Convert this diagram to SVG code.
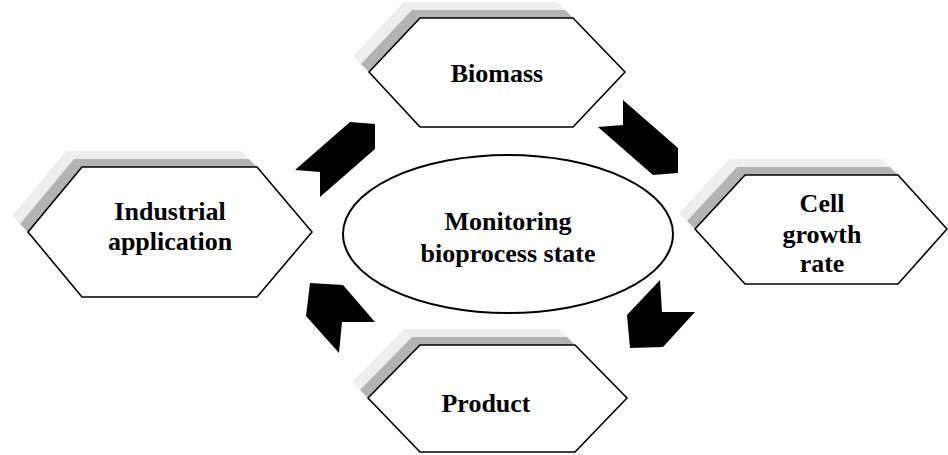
<svg xmlns="http://www.w3.org/2000/svg" width="948" height="455" viewBox="0 0 948 455">
<style>
.hex{fill:#ffffff;stroke:#000000;stroke-width:1.6;stroke-linejoin:miter}
.sh1{fill:#eeeeee}
.sh2{fill:#b3b3b3}
.lbl{font-family:"Liberation Serif","Times New Roman",serif;font-weight:bold;font-size:26px;fill:#000;text-anchor:middle}
.arr{fill:#000000}
</style>
<rect width="948" height="455" fill="#ffffff"/>
<g id="biomass">
<polygon class="sh1" points="353,56 404,2 557,2 573,18 420,18 369,72"/>
<polygon class="sh2" points="361,64 412,10 565,10 573,18 420,18 369,72"/>
<polygon class="hex" points="369,72 420,18 573,18 625,72 573,127 420,127"/>
<text class="lbl" x="497" y="82">Biomass</text>
</g>
<g id="industrial">
<polygon class="sh1" points="12,216 66,151 241,151 257,167 82,167 28,232"/>
<polygon class="sh2" points="20,224 74,159 249,159 257,167 82,167 28,232"/>
<polygon class="hex" points="28,232 82,167 257,167 312,232 257,297 82,297"/>
<text class="lbl" x="170" y="220">Industrial</text>
<text class="lbl" x="170" y="250">application</text>
</g>
<g id="cell">
<polygon class="sh1" points="679,213 729,159 882,159 898,175 745,175 695,229"/>
<polygon class="sh2" points="687,221 737,167 890,167 898,175 745,175 695,229"/>
<polygon class="hex" points="695,229 745,175 898,175 947,229 898,284 745,284"/>
<text class="lbl" x="822" y="212">Cell</text>
<text class="lbl" x="822" y="243">growth</text>
<text class="lbl" x="822" y="272">rate</text>
</g>
<g id="product">
<polygon class="sh1" points="352,382 404,329 559,329 575,345 420,345 368,398"/>
<polygon class="sh2" points="360,390 412,337 567,337 575,345 420,345 368,398"/>
<polygon class="hex" points="368,398 420,345 575,345 627,398 575,452 420,452"/>
<text class="lbl" x="486" y="412">Product</text>
</g>
<g id="center">
<ellipse cx="508" cy="234" rx="165" ry="79" fill="#ffffff" stroke="#000000" stroke-width="2"/>
<text class="lbl" x="508" y="230">Monitoring</text>
<text class="lbl" x="508" y="262">bioprocess state</text>
</g>
<g id="connectors">
<polygon class="arr" points="350,122 375,124 375,149 320,197 320,172 295,170"/>
<polygon class="arr" points="623,100 678,148 678,173 653,175 598,127 623,125"/>
<polygon class="arr" points="660,280 662,312 695,312 663,347 630,348 627,315"/>
<polygon class="arr" points="310,283 343,285 375,322 342,322 339,353 306,316"/>
</g>
</svg>
